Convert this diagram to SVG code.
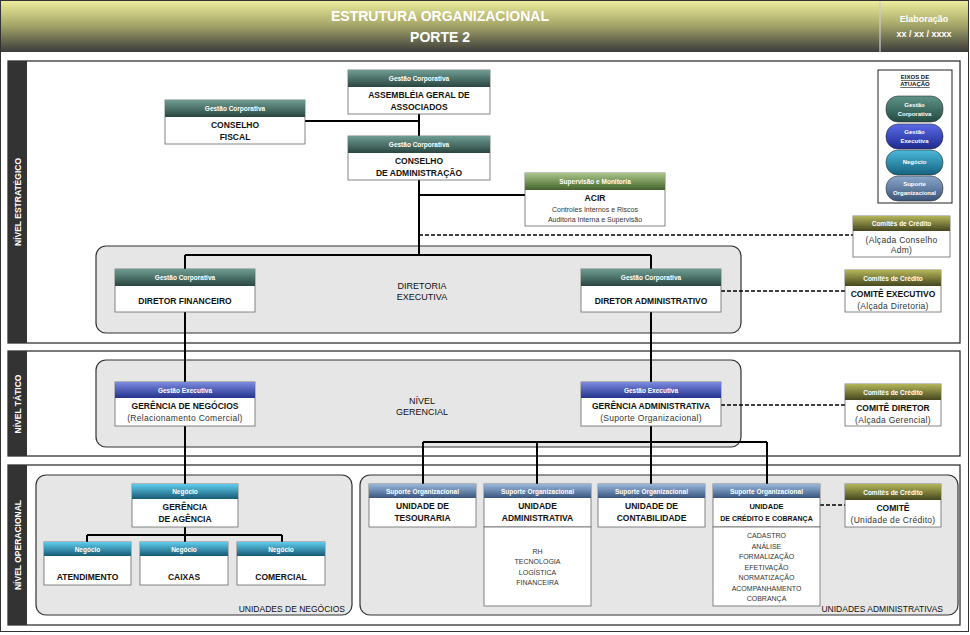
<svg xmlns="http://www.w3.org/2000/svg" width="970" height="635" viewBox="0 0 970 635">
<defs>
<linearGradient id="gTitle" x1="0" y1="0" x2="0" y2="1"><stop offset="0" stop-color="#ecec9c"/><stop offset="0.45" stop-color="#a9aa6a"/><stop offset="1" stop-color="#3c3c3c"/></linearGradient>
<linearGradient id="gCorp" x1="0" y1="0" x2="0" y2="1"><stop offset="0" stop-color="#6f9d93"/><stop offset="1" stop-color="#2a4640"/></linearGradient>
<linearGradient id="gExec" x1="0" y1="0" x2="0" y2="1"><stop offset="0" stop-color="#7c8ae0"/><stop offset="1" stop-color="#26338e"/></linearGradient>
<linearGradient id="gNeg" x1="0" y1="0" x2="0" y2="1"><stop offset="0" stop-color="#5fcdee"/><stop offset="1" stop-color="#175a74"/></linearGradient>
<linearGradient id="gSup" x1="0" y1="0" x2="0" y2="1"><stop offset="0" stop-color="#9ab8dc"/><stop offset="1" stop-color="#3a5680"/></linearGradient>
<linearGradient id="gCom" x1="0" y1="0" x2="0" y2="1"><stop offset="0" stop-color="#b4b65a"/><stop offset="1" stop-color="#45461e"/></linearGradient>
<linearGradient id="gSpv" x1="0" y1="0" x2="0" y2="1"><stop offset="0" stop-color="#a8c68a"/><stop offset="1" stop-color="#46622c"/></linearGradient>
<linearGradient id="pCorp" x1="0" y1="0" x2="0" y2="1"><stop offset="0" stop-color="#5f9488"/><stop offset="1" stop-color="#244a42"/></linearGradient>
<linearGradient id="pExec" x1="0" y1="0" x2="0" y2="1"><stop offset="0" stop-color="#5a6ae6"/><stop offset="1" stop-color="#1e2a90"/></linearGradient>
<linearGradient id="pNeg" x1="0" y1="0" x2="0" y2="1"><stop offset="0" stop-color="#4bbadc"/><stop offset="1" stop-color="#14627e"/></linearGradient>
<linearGradient id="pSup" x1="0" y1="0" x2="0" y2="1"><stop offset="0" stop-color="#8aa8cc"/><stop offset="1" stop-color="#3a5478"/></linearGradient>
</defs>
<style>
text{font-family:"Liberation Sans",Arial,sans-serif;text-anchor:middle}
.ttl{font-size:14px;font-weight:bold;fill:#fff}
.el{font-size:9px;font-weight:bold;fill:#fff}
.band{fill:#333}
.bt{font-size:8.5px;font-weight:bold;fill:#fff}
.sec{fill:#fff;stroke:#222;stroke-width:1.2}
.grp{fill:#e6e6e6;stroke:#333;stroke-width:1.2}
.body{fill:#fff;stroke:#666;stroke-width:0.8}
.h{font-size:6.5px;font-weight:bold;fill:#fff}
.t{font-size:8.5px;font-weight:bold;fill:#111}
.s{font-size:8.5px;fill:#333;letter-spacing:0.3px}
.sm{font-size:7px;fill:#333}
.gl{font-size:9px;fill:#111}
.lb{font-size:8.5px;fill:#111;text-anchor:end}
.pt{font-size:6px;font-weight:bold;fill:#fff}
.ln{stroke:#000;stroke-width:2;fill:none}
.dl{stroke:#000;stroke-width:1.5;stroke-dasharray:4,2;fill:none}
</style>

<!-- page frame & header -->
<rect x="0.5" y="0.5" width="968" height="631" fill="#fff" stroke="#333" stroke-width="1"/>
<rect x="1" y="1" width="967" height="51" fill="url(#gTitle)"/>
<line x1="880" y1="1" x2="880" y2="52" stroke="#ccc" stroke-width="1.2"/>
<text class="ttl" x="440" y="21">ESTRUTURA ORGANIZACIONAL</text>
<text class="ttl" x="440" y="42">PORTE 2</text>
<text class="el" x="924" y="22">Elaboração</text>
<text class="el" x="924" y="37">xx / xx / xxxx</text>

<!-- sections -->
<g id="sec-estrategico">
<rect class="sec" x="8" y="61" width="952" height="282"/>
<rect class="band" x="8" y="61" width="19" height="282"/>
<text class="bt" transform="translate(21,202) rotate(-90)">NÍVEL ESTRATÉGICO</text>
</g>
<g id="sec-tatico">
<rect class="sec" x="8" y="351" width="952" height="105"/>
<rect class="band" x="8" y="351" width="19" height="105"/>
<text class="bt" transform="translate(21,404) rotate(-90)">NÍVEL TÁTICO</text>
</g>
<g id="sec-operacional">
<rect class="sec" x="8" y="465" width="952" height="160"/>
<rect class="band" x="8" y="465" width="19" height="160"/>
<text class="bt" transform="translate(21,545) rotate(-90)">NÍVEL OPERACIONAL</text>
</g>

<!-- group boxes -->
<g id="grp-diretoria">
<rect class="grp" x="96" y="246" width="645" height="87" rx="10"/>
<text class="gl" x="422" y="289">DIRETORIA</text>
<text class="gl" x="422" y="300">EXECUTIVA</text>
</g>
<g id="grp-gerencial">
<rect class="grp" x="96" y="360" width="645" height="87" rx="10"/>
<text class="gl" x="422" y="404">NÍVEL</text>
<text class="gl" x="422" y="415">GERENCIAL</text>
</g>
<g id="grp-negocios">
<rect class="grp" x="36" y="475" width="316" height="140" rx="10"/>
<text class="lb" x="345" y="612">UNIDADES DE NEGÓCIOS</text>
</g>
<g id="grp-adm">
<rect class="grp" x="360" y="475" width="598" height="140" rx="10"/>
<text class="lb" x="943" y="612">UNIDADES ADMINISTRATIVAS</text>
</g>

<!-- legend -->
<g id="legenda">
<rect x="878" y="70" width="74" height="133" fill="#fff" stroke="#222" stroke-width="1"/>
<text x="915" y="79" style="font-size:6px;font-weight:bold;fill:#111;text-decoration:underline">EIXOS DE</text>
<text x="915" y="86" style="font-size:6px;font-weight:bold;fill:#111;text-decoration:underline">ATUAÇÃO</text>
<rect x="886" y="96" width="57" height="26" rx="12" fill="url(#pCorp)" stroke="#333" stroke-width="0.6"/>
<text class="pt" x="914.5" y="107">Gestão</text><text class="pt" x="914.5" y="116">Corporativa</text>
<rect x="886" y="124" width="57" height="25" rx="12" fill="url(#pExec)" stroke="#333" stroke-width="0.6"/>
<text class="pt" x="914.5" y="134">Gestão</text><text class="pt" x="914.5" y="143">Executiva</text>
<rect x="886" y="150" width="57" height="25" rx="12" fill="url(#pNeg)" stroke="#333" stroke-width="0.6"/>
<text class="pt" x="914.5" y="164">Negócio</text>
<rect x="886" y="176" width="57" height="25" rx="12" fill="url(#pSup)" stroke="#333" stroke-width="0.6"/>
<text class="pt" x="914.5" y="186">Suporte</text><text class="pt" x="914.5" y="195">Organizacional</text>
</g>

<!-- connectors -->
<g id="connectors">
<path class="ln" d="M419,114 V136 M305,121 H419 M419,180 V255 M419,195 H525 M185,255 H651 M185,255 V269 M651,255 V269 M185,312 V382 M651,312 V382 M185,426 V484 M651,426 V484 M423,442 H767 M423,442 V484 M537,442 V484 M767,442 V484 M185,527 V535 M87,535 H282 M87,535 V542 M185,535 V542 M282,535 V542"/>
<path class="dl" d="M419,235 H853 M721,291 H845 M721,405 H845 M820,505 H845"/>
</g>

<!-- nodes -->
<g id="assembleia">
<rect class="body" x="348" y="70" width="142" height="44"/>
<rect x="348" y="70" width="142" height="17" fill="url(#gCorp)"/>
<text class="h" x="419" y="81">Gestão Corporativa</text>
<text class="t" x="419" y="98">ASSEMBLÉIA GERAL DE</text>
<text class="t" x="419" y="110">ASSOCIADOS</text>
</g>
<g id="conselho-fiscal">
<rect class="body" x="165" y="100" width="140" height="44"/>
<rect x="165" y="100" width="140" height="17" fill="url(#gCorp)"/>
<text class="h" x="235" y="111">Gestão Corporativa</text>
<text class="t" x="235" y="128">CONSELHO</text>
<text class="t" x="235" y="140">FISCAL</text>
</g>
<g id="conselho-adm">
<rect class="body" x="348" y="136" width="142" height="44"/>
<rect x="348" y="136" width="142" height="17" fill="url(#gCorp)"/>
<text class="h" x="419" y="147">Gestão Corporativa</text>
<text class="t" x="419" y="164">CONSELHO</text>
<text class="t" x="419" y="176">DE ADMINISTRAÇÃO</text>
</g>
<g id="acir">
<rect class="body" x="525" y="173" width="140" height="53"/>
<rect x="525" y="173" width="140" height="17" fill="url(#gSpv)"/>
<text class="h" x="595" y="184">Supervisão e Monitoria</text>
<text class="t" x="595" y="201">ACIR</text>
<text class="sm" x="595" y="212">Controles Internos e Riscos</text>
<text class="sm" x="595" y="222">Auditoria Interna e Supervisão</text>
</g>
<g id="comite-conselho">
<rect class="body" x="853" y="216" width="97" height="41"/>
<rect x="853" y="216" width="97" height="15" fill="url(#gCom)"/>
<text class="h" x="901.5" y="226">Comitês de Crédito</text>
<text class="s" x="901.5" y="243">(Alçada Conselho</text>
<text class="s" x="901.5" y="253">Adm)</text>
</g>
<g id="diretor-financeiro">
<rect class="body" x="115" y="269" width="140" height="43"/>
<rect x="115" y="269" width="140" height="17" fill="url(#gCorp)"/>
<text class="h" x="185" y="280">Gestão Corporativa</text>
<text class="t" x="185" y="304">DIRETOR FINANCEIRO</text>
</g>
<g id="diretor-administrativo">
<rect class="body" x="581" y="269" width="140" height="43"/>
<rect x="581" y="269" width="140" height="17" fill="url(#gCorp)"/>
<text class="h" x="651" y="280">Gestão Corporativa</text>
<text class="t" x="651" y="304">DIRETOR ADMINISTRATIVO</text>
</g>
<g id="comite-executivo">
<rect class="body" x="845" y="270" width="96" height="42"/>
<rect x="845" y="270" width="96" height="16" fill="url(#gCom)"/>
<text class="h" x="893" y="281">Comitês de Crédito</text>
<text class="t" x="893" y="297">COMITÊ  EXECUTIVO</text>
<text class="s" x="893" y="309">(Alçada Diretoria)</text>
</g>
<g id="gerencia-negocios">
<rect class="body" x="115" y="382" width="140" height="44"/>
<rect x="115" y="382" width="140" height="16" fill="url(#gExec)"/>
<text class="h" x="185" y="393">Gestão Executiva</text>
<text class="t" x="185" y="409">GERÊNCIA DE NEGÓCIOS</text>
<text class="s" x="185" y="421">(Relacionamento Comercial)</text>
</g>
<g id="gerencia-administrativa">
<rect class="body" x="581" y="382" width="140" height="44"/>
<rect x="581" y="382" width="140" height="16" fill="url(#gExec)"/>
<text class="h" x="651" y="393">Gestão Executiva</text>
<text class="t" x="651" y="409">GERÊNCIA ADMINISTRATIVA</text>
<text class="s" x="651" y="421">(Suporte Organizacional)</text>
</g>
<g id="comite-diretor">
<rect class="body" x="845" y="384" width="96" height="42"/>
<rect x="845" y="384" width="96" height="16" fill="url(#gCom)"/>
<text class="h" x="893" y="395">Comitês de Crédito</text>
<text class="t" x="893" y="411">COMITÊ  DIRETOR</text>
<text class="s" x="893" y="423">(Alçada Gerencial)</text>
</g>
<g id="gerencia-agencia">
<rect class="body" x="132" y="484" width="106" height="43"/>
<rect x="132" y="484" width="106" height="15" fill="url(#gNeg)"/>
<text class="h" x="185" y="494">Negócio</text>
<text class="t" x="185" y="510">GERÊNCIA</text>
<text class="t" x="185" y="522">DE AGÊNCIA</text>
</g>
<g id="atendimento">
<rect class="body" x="44" y="542" width="87" height="43"/>
<rect x="44" y="542" width="87" height="14" fill="url(#gNeg)"/>
<text class="h" x="87.5" y="552">Negócio</text>
<text class="t" x="87.5" y="580">ATENDIMENTO</text>
</g>
<g id="caixas">
<rect class="body" x="140" y="542" width="88" height="43"/>
<rect x="140" y="542" width="88" height="14" fill="url(#gNeg)"/>
<text class="h" x="184" y="552">Negócio</text>
<text class="t" x="184" y="580">CAIXAS</text>
</g>
<g id="comercial">
<rect class="body" x="237" y="542" width="88" height="43"/>
<rect x="237" y="542" width="88" height="14" fill="url(#gNeg)"/>
<text class="h" x="281" y="552">Negócio</text>
<text class="t" x="281" y="580">COMERCIAL</text>
</g>
<g id="tesouraria">
<rect class="body" x="369" y="484" width="107" height="43"/>
<rect x="369" y="484" width="107" height="14" fill="url(#gSup)"/>
<text class="h" x="422.5" y="494">Suporte Organizacional</text>
<text class="t" x="422.5" y="509">UNIDADE DE</text>
<text class="t" x="422.5" y="521">TESOURARIA</text>
</g>
<g id="unidade-administrativa">
<rect class="body" x="484" y="484" width="107" height="43"/>
<rect class="body" x="484" y="527" width="107" height="79"/>
<rect x="484" y="484" width="107" height="14" fill="url(#gSup)"/>
<text class="h" x="537.5" y="494">Suporte Organizacional</text>
<text class="t" x="537.5" y="509">UNIDADE</text>
<text class="t" x="537.5" y="521">ADMINISTRATIVA</text>
<text class="sm" x="537.5" y="554">RH</text>
<text class="sm" x="537.5" y="564">TECNOLOGIA</text>
<text class="sm" x="537.5" y="575">LOGÍSTICA</text>
<text class="sm" x="537.5" y="585">FINANCEIRA</text>
</g>
<g id="contabilidade">
<rect class="body" x="598" y="484" width="107" height="43"/>
<rect x="598" y="484" width="107" height="14" fill="url(#gSup)"/>
<text class="h" x="651.5" y="494">Suporte Organizacional</text>
<text class="t" x="651.5" y="509">UNIDADE DE</text>
<text class="t" x="651.5" y="521">CONTABILIDADE</text>
</g>
<g id="credito-cobranca">
<rect class="body" x="713" y="484" width="107" height="43"/>
<rect class="body" x="713" y="527" width="107" height="79"/>
<rect x="713" y="484" width="107" height="14" fill="url(#gSup)"/>
<text class="h" x="766.5" y="494">Suporte Organizacional</text>
<text class="t" x="766.5" y="509" style="font-size:7.5px">UNIDADE</text>
<text class="t" x="766.5" y="521" style="font-size:7px">DE CRÉDITO E COBRANÇA</text>
<text class="sm" x="766.5" y="538">CADASTRO</text>
<text class="sm" x="766.5" y="548.5">ANÁLISE</text>
<text class="sm" x="766.5" y="559">FORMALIZAÇÃO</text>
<text class="sm" x="766.5" y="569.5">EFETIVAÇÃO</text>
<text class="sm" x="766.5" y="580">NORMATIZAÇÃO</text>
<text class="sm" x="766.5" y="590.5">ACOMPANHAMENTO</text>
<text class="sm" x="766.5" y="601">COBRANÇA</text>
</g>
<g id="comite-unidade">
<rect class="body" x="845" y="484" width="96" height="43"/>
<rect x="845" y="484" width="96" height="16" fill="url(#gCom)"/>
<text class="h" x="893" y="495">Comitês de Crédito</text>
<text class="t" x="893" y="511">COMITÊ</text>
<text class="s" x="893" y="523">(Unidade de Crédito)</text>
</g>
</svg>
